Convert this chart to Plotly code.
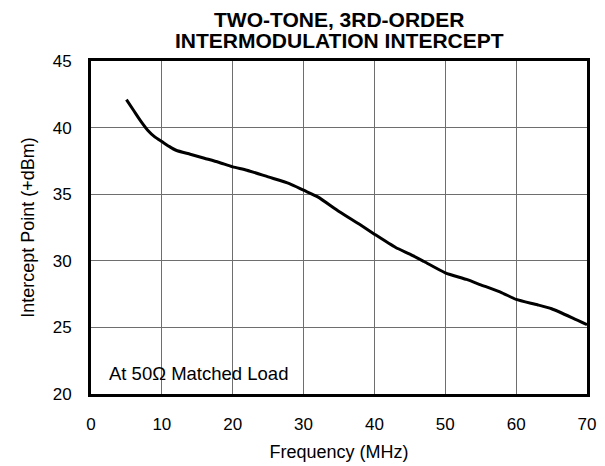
import plotly.graph_objects as go

freq_mhz = [5, 6, 7, 8, 9, 10, 11, 12, 14, 16, 18, 20, 22, 25, 28, 30, 32, 35, 38, 40,
            43, 45, 47, 50, 53, 55, 58, 60, 63, 65, 68, 70]
intercept_dbm = [42.1, 41.3, 40.5, 39.8, 39.3, 38.95, 38.6, 38.3, 38.0, 37.7, 37.4, 37.05,
                 36.8, 36.3, 35.8, 35.3, 34.8, 33.7, 32.7, 32.0, 31.0, 30.5, 29.95, 29.1,
                 28.6, 28.2, 27.6, 27.1, 26.7, 26.4, 25.7, 25.2]
x_ticks = [0, 10, 20, 30, 40, 50, 60, 70]
y_ticks = [20, 25, 30, 35, 40, 45]
title_lines = ["TWO-TONE, 3RD-ORDER", "INTERMODULATION INTERCEPT"]
note_text = "At 50Ω Matched Load"

FONT = "Liberation Sans, Arial, Helvetica, sans-serif"

fig = go.Figure()
fig.add_trace(go.Scatter(
    x=freq_mhz, y=intercept_dbm, mode="lines",
    line=dict(color="black", width=3, shape="spline", smoothing=0.6),
    hoverinfo="skip", showlegend=False,
))

fig.update_layout(
    width=605, height=466,
    margin=dict(l=91, r=18, t=61, b=72, autoexpand=False),
    paper_bgcolor="white", plot_bgcolor="white",
    font=dict(family=FONT, size=17, color="black"),
    showlegend=False,
)
fig.update_xaxes(
    range=[0, 70], tickvals=x_ticks, ticktext=[str(v) for v in x_ticks],
    showgrid=True, gridcolor="#6e6e6e", gridwidth=1.3,
    showline=True, linecolor="black", linewidth=3, mirror=True,
    ticks="outside", ticklen=13, tickcolor="rgba(0,0,0,0)",
    zeroline=False, automargin=False,
    title=dict(text="Frequency (MHz)", font=dict(size=18), standoff=12),
)
fig.update_yaxes(
    range=[20, 45], tickvals=y_ticks, ticktext=[str(v) for v in y_ticks],
    showgrid=True, gridcolor="#6e6e6e", gridwidth=1.3,
    showline=True, linecolor="black", linewidth=3, mirror=True,
    ticks="outside", ticklen=13, tickcolor="rgba(0,0,0,0)",
    zeroline=False, automargin=False,
    title=dict(text="Intercept Point (+dBm)", font=dict(size=18), standoff=14),
)

fig.add_shape(type="rect", xref="paper", yref="paper",
              x0=0, x1=0.413, y0=0.01, y1=0.117,
              fillcolor="white", line=dict(width=0), layer="between")

fig.add_annotation(text=note_text, xref="paper", yref="paper",
                   x=0.032, y=0.062, xanchor="left", yanchor="middle",
                   showarrow=False, font=dict(size=18.5))

fig.add_annotation(text="<b>%s</b>" % title_lines[0], xref="paper", yref="paper",
                   x=0.5, y=1.126, xanchor="center", yanchor="middle",
                   showarrow=False, font=dict(size=21))
fig.add_annotation(text="<b>%s</b>" % title_lines[1], xref="paper", yref="paper",
                   x=0.5, y=1.061, xanchor="center", yanchor="middle",
                   showarrow=False, font=dict(size=21))

fig.write_html("out.html", config={"displayModeBar": False},
               post_script="document.body.style.margin='0';document.body.style.padding='0';")
